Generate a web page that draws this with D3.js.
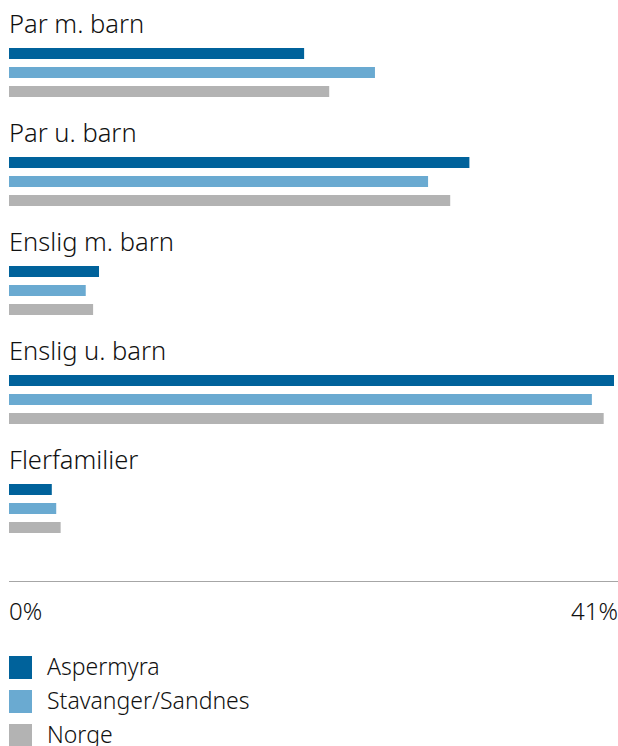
<!DOCTYPE html>
<html>
<head>
<meta charset="utf-8">
<script src="https://cdn.jsdelivr.net/npm/d3@7"></script>
<style>
  body { margin: 0; background: #fff; }
  text { font-family: "Noto Sans", sans-serif; font-weight: 300; fill: #111; }
</style>
</head>
<body>
<div id="chart"></div>
<script>
// Household types and share (%) per area
const categories = ["Par m. barn", "Par u. barn", "Enslig m. barn", "Enslig u. barn", "Flerfamilier"];
const series = ["Aspermyra", "Stavanger/Sandnes", "Norge"];
const aspermyra = [20.0, 31.2, 6.1, 41.0, 2.9];
const stavangerSandnes = [24.8, 28.4, 5.2, 39.5, 3.2];
const norge = [21.7, 29.9, 5.7, 40.3, 3.5];
const tickValues = [0, 41];
const colors = ["#00629b", "#6aaad1", "#b3b3b3"];

const seriesValues = [aspermyra, stavangerSandnes, norge];
const data = categories.map((c, i) => ({
    category: c,
    values: series.map((s, j) => ({ key: s, value: seriesValues[j][i] }))
}));

const width = 618, height = 746;

const svg = d3.select("#chart")
    .append("svg")
    .attr("width", width)
    .attr("height", height);

const x = d3.scaleLinear()
    .domain([0, 41])
    .range([9, 614]);

// each group block is 109px tall, first bar at y=48
const y0 = d3.scaleBand()
    .domain(categories)
    .range([48, 48 + 109 * categories.length])
    .padding(0);

const y1 = d3.scaleBand()
    .domain(series)
    .range([0, 49])
    .paddingInner(8 / 19)
    .paddingOuter(0);

const color = d3.scaleOrdinal()
    .domain(series)
    .range(colors);

const groups = svg.selectAll(".group")
    .data(data)
    .enter()
    .append("g")
    .attr("class", "group")
    .attr("transform", d => `translate(0,${y0(d.category)})`);

groups.append("text")
    .attr("x", 9)
    .attr("y", -15)
    .style("font-size", "25.5px")
    .text(d => d.category);

groups.selectAll("rect")
    .data(d => d.values)
    .enter()
    .append("rect")
    .attr("x", x(0))
    .attr("y", d => y1(d.key))
    .attr("width", d => x(d.value) - x(0))
    .attr("height", y1.bandwidth())
    .attr("fill", d => color(d.key));

// Axis line and end labels
svg.append("line")
    .attr("x1", 9)
    .attr("x2", 618)
    .attr("y1", 581.5)
    .attr("y2", 581.5)
    .attr("stroke", "#a6a6a6")
    .attr("stroke-width", 1);

svg.selectAll(".tick-label")
    .data(tickValues)
    .enter()
    .append("text")
    .attr("class", "tick-label")
    .attr("x", (d, i) => i === 0 ? x(d) : x(d) + 4)
    .attr("y", 620)
    .attr("text-anchor", (d, i) => i === 0 ? "start" : "end")
    .style("font-size", "24px")
    .text(d => d + "%");

// Legend
const legend = svg.append("g")
    .attr("transform", "translate(9,656)");

legend.selectAll("rect")
    .data(series)
    .enter()
    .append("rect")
    .attr("x", 0)
    .attr("y", (d, i) => i * 34)
    .attr("width", 23)
    .attr("height", 23)
    .attr("fill", d => color(d));

legend.selectAll("text")
    .data(series)
    .enter()
    .append("text")
    .attr("x", 38)
    .attr("y", (d, i) => i * 34 + 19)
    .style("font-size", "23px")
    .text(d => d);
</script>
</body>
</html>
